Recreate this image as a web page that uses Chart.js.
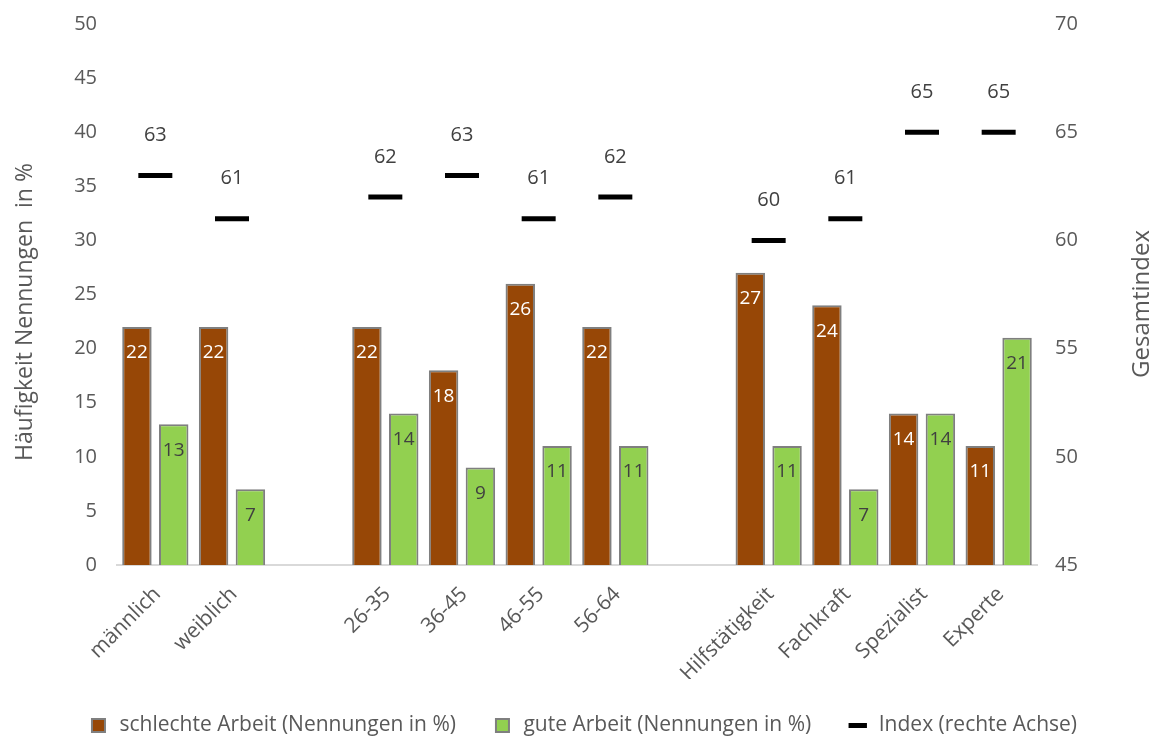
<!DOCTYPE html>
<html lang="de">
<head>
  <meta charset="UTF-8">
  <title>Schlechte und gute Arbeit nach Gruppen</title>
  <script src="https://cdn.jsdelivr.net/npm/chart.js"></script>
  <style>
    body { margin: 0; padding: 0; background: #fff; }
    canvas { display: block; }
  </style>
</head>
<body>
  <canvas id="chart" width="1157" height="737"></canvas>

  <script>
    // categories (empty strings = gaps between groups)
    const categories = ['männlich', 'weiblich', '', '26-35', '36-45', '46-55', '56-64', '',
                        'Hilfstätigkeit', 'Fachkraft', 'Spezialist', 'Experte'];
    const schlechteArbeit = [22, 22, null, 22, 18, 26, 22, null, 27, 24, 14, 11];
    const guteArbeit      = [13, 7, null, 14, 9, 11, 11, null, 11, 7, 14, 21];
    const gesamtIndex     = [63, 61, null, 62, 63, 61, 62, null, 60, 61, 65, 65];

    const leftTicks = [0, 5, 10, 15, 20, 25, 30, 35, 40, 45, 50];
    const rightTicks = [45, 50, 55, 60, 65, 70];

    const FONT = "'Open Sans', sans-serif";
    const TXT = '#595959';

    function sideTitle(ctx, text, x, y, size) {
      ctx.save();
      ctx.translate(x, y);
      ctx.rotate(-Math.PI / 2);
      ctx.font = size + 'px ' + FONT;
      ctx.fillStyle = TXT;
      ctx.textAlign = 'center';
      ctx.textBaseline = 'middle';
      ctx.fillText(text, 0, 0);
      ctx.restore();
    }

    // numbers on bars / above index dashes, plus both axis titles (both read bottom-up)
    const extras = {
      id: 'extras',
      afterDatasetsDraw(chart) {
        const ctx = chart.ctx;
        ctx.save();
        ctx.textAlign = 'center';
        ctx.textBaseline = 'middle';
        chart.data.datasets.forEach((ds, i) => {
          const meta = chart.getDatasetMeta(i);
          meta.data.forEach((el, j) => {
            const v = ds.data[j];
            if (v == null) return;
            if (ds.type === 'bar') {
              ctx.font = '19px ' + FONT;
              ctx.fillStyle = i === 0 ? '#ffffff' : '#404040';
              ctx.fillText(v, el.x, el.y + 26);
            } else {
              ctx.font = '20px ' + FONT;
              ctx.fillStyle = '#404040';
              ctx.fillText(v, el.x, el.y - 40);
            }
          });
        });
        ctx.restore();
        sideTitle(ctx, 'Häufigkeit Nennungen  in %', 25, 312, 23);
        sideTitle(ctx, 'Gesamtindex', 1142, 304, 24);
      }
    };

    const ctx = document.getElementById('chart').getContext('2d');
    new Chart(ctx, {
      data: {
        labels: categories,
        datasets: [
          {
            type: 'bar',
            label: 'schlechte Arbeit (Nennungen in %)',
            data: schlechteArbeit,
            backgroundColor: '#974706',
            borderColor: '#7f7f7f',
            borderWidth: 2,
            yAxisID: 'y'
          },
          {
            type: 'bar',
            label: 'gute Arbeit (Nennungen in %)',
            data: guteArbeit,
            backgroundColor: '#92d050',
            borderColor: '#7f7f7f',
            borderWidth: 2,
            yAxisID: 'y'
          },
          {
            type: 'line',
            label: 'Index (rechte Achse)',
            data: gesamtIndex,
            showLine: false,
            pointStyle: 'line',
            pointRadius: 17,
            pointHoverRadius: 17,
            borderColor: '#000000',
            backgroundColor: '#000000',
            borderWidth: 5,
            yAxisID: 'y1'
          }
        ]
      },
      options: {
        responsive: false,
        animation: false,
        datasets: {
          bar: { categoryPercentage: 0.96, barPercentage: 0.8 }
        },
        layout: { padding: { left: 10, right: 2, top: 24, bottom: -9 } },
        scales: {
          x: {
            grid: { display: false, drawTicks: false },
            border: { color: '#d9d9d9', width: 2 },
            ticks: {
              color: TXT, font: { family: FONT, size: 21 },
              maxRotation: 45, minRotation: 45, autoSkip: false,
              padding: 17, labelOffset: 2
            },
            afterFit: s => { s.paddingLeft = 0; s.paddingRight = 0; s.height = 114; }
          },
          y: {
            position: 'left',
            min: 0, max: 50,
            afterBuildTicks: axis => { axis.ticks = leftTicks.map(v => ({ value: v })); },
            grid: { display: false, tickLength: 10 },
            border: { display: false },
            ticks: { color: TXT, font: { family: FONT, size: 20 }, padding: 10 },
            afterFit: s => { s.width = 107; }
          },
          y1: {
            position: 'right',
            min: 45, max: 70,
            afterBuildTicks: axis => { axis.ticks = rightTicks.map(v => ({ value: v })); },
            grid: { display: false, tickLength: 8 },
            border: { display: false },
            ticks: { color: TXT, font: { family: FONT, size: 20 }, padding: 10 },
            afterFit: s => { s.width = 118; }
          }
        },
        plugins: {
          tooltip: { enabled: false },
          legend: {
            position: 'bottom',
            labels: {
              color: TXT,
              font: { family: FONT, size: 21 },
              usePointStyle: true,
              boxHeight: 13,
              padding: 36,
              generateLabels: chart => {
                const items = Chart.defaults.plugins.legend.labels.generateLabels(chart);
                items.sort((a, b) => a.datasetIndex - b.datasetIndex);
                items.forEach(it => {
                  if (it.datasetIndex < 2) {
                    it.pointStyle = 'rect';
                    it.lineWidth = 2;
                    it.strokeStyle = '#7f7f7f';
                  } else {
                    it.pointStyle = 'line';
                    it.lineWidth = 5;
                    it.strokeStyle = '#000000';
                  }
                });
                return items;
              }
            }
          }
        }
      },
      plugins: [extras]
    });
  </script>
</body>
</html>
